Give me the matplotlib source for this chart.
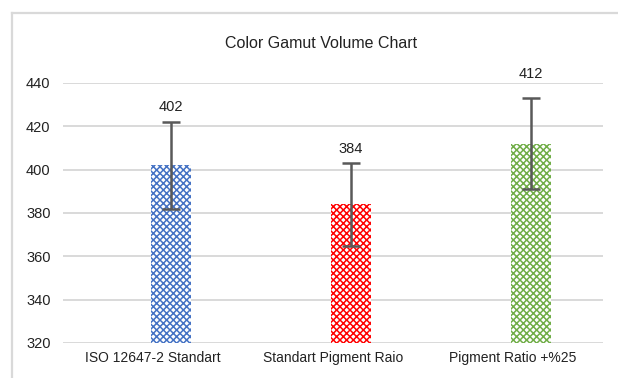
import matplotlib
matplotlib.use("Agg")
import matplotlib.pyplot as plt
import matplotlib.transforms as mtransforms
from matplotlib.lines import Line2D

plt.rcParams['font.family'] = ['Liberation Sans', 'DejaVu Sans']

categories = ["ISO 12647-2 Standart", "Standart Pigment Raio", "Pigment Ratio +%25"]
volumes = [402, 384, 412]
errors = [20, 19, 21]
colors = ["#4472C4", "#FF0000", "#70AD47"]

fig = plt.figure(figsize=(6.18, 3.78), dpi=100)
fig.patch.set_facecolor("white")

# outer chart frame (left and top edges)
fig.add_artist(Line2D([11.5 / 618, 11.5 / 618], [0, 1 - 13 / 378],
                      transform=fig.transFigure, color="#d9d9d9", lw=1.6))
fig.add_artist(Line2D([11.5 / 618, 1], [1 - 13 / 378, 1 - 13 / 378],
                      transform=fig.transFigure, color="#d9d9d9", lw=1.6))

ax = fig.add_axes([63 / 618, 35 / 378, 540 / 618, 260 / 378])
x = list(range(len(categories)))

plt.rcParams['hatch.linewidth'] = 1.1
for xi, v, c in zip(x, volumes, colors):
    ax.bar(xi, v - 320, bottom=320, width=0.22, facecolor="white",
           edgecolor=c, hatch="xxxxx", linewidth=0, zorder=2)

ax.errorbar(x, volumes, yerr=errors, fmt="none", ecolor="#595959",
            elinewidth=1.8, capsize=6.5, capthick=1.8, zorder=3)

label_offsets = [5.5, 5.5, 12]
for xi, v, e, off in zip(x, volumes, errors, label_offsets):
    ax.annotate(f"{v}", (xi, v + e), xytext=(0, off), textcoords="offset points",
                ha="center", va="bottom", fontsize=10.5, color="#222222")

ax.set_xlim(-0.6, 2.4)
ax.set_ylim(320, 440)
ax.set_yticks(range(320, 441, 20))
ax.yaxis.grid(True, color="#d9d9d9", lw=1.4, zorder=0)
ax.set_axisbelow(True)
for s in ax.spines.values():
    s.set_visible(False)
ax.tick_params(axis="both", length=0, labelsize=10.5, colors="#222222")
ax.tick_params(axis="y", pad=9)
ax.tick_params(axis="x", pad=6)
ax.set_xticks(x)
ax.set_xticklabels(categories, fontsize=10)
shift = mtransforms.ScaledTranslation(-18 / 100, 0, fig.dpi_scale_trans)
for lbl in ax.get_xticklabels():
    lbl.set_transform(lbl.get_transform() + shift)

fig.text(321 / 618, 1 - 43 / 378, "Color Gamut Volume Chart", ha="center",
         va="center", fontsize=11.5, color="#222222")

fig.savefig("out.png", dpi=100, facecolor="white")
